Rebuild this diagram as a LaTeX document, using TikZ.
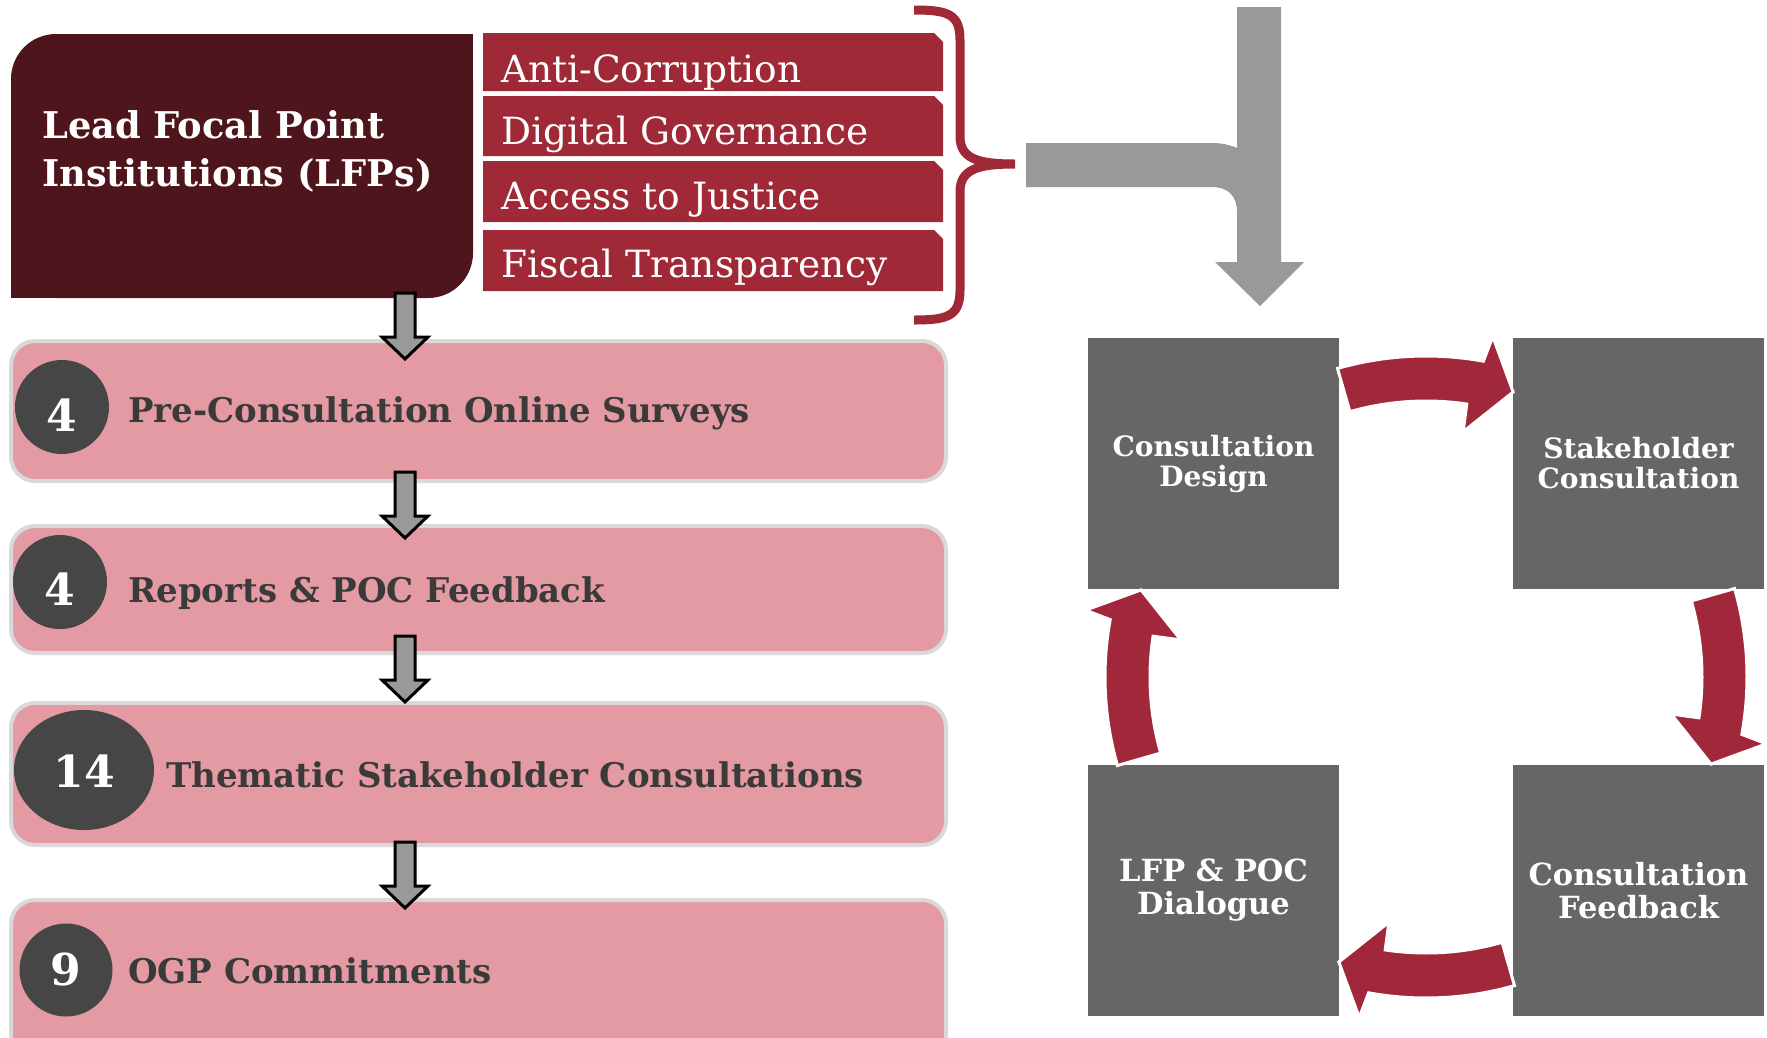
\documentclass[tikz,border=0pt]{standalone}
\usepackage{fontspec}
\setmainfont{DejaVu Serif}
\usetikzlibrary{shapes.geometric}
\definecolor{lfpdark}{HTML}{4F151C}
\definecolor{barred}{HTML}{9F2936}
\definecolor{pinkfill}{HTML}{E49AA2}
\definecolor{pinkline}{HTML}{D9D9D9}
\definecolor{circgray}{HTML}{464646}
\definecolor{sqgray}{HTML}{666666}
\definecolor{biggray}{HTML}{999999}
\definecolor{textdark}{HTML}{3A3A3A}
\definecolor{cyclered}{HTML}{A0283A}
\begin{document}
\begin{tikzpicture}[x=1pt,y=-1pt,
  pinkbox/.style={draw=pinkline, line width=4, fill=pinkfill, rounded corners=24, minimum width=935, inner sep=0, anchor=north west},
  numcirc/.style={ellipse, fill=circgray, inner sep=0},
  numtext/.style={text=white, font=\fontsize{44}{44}\selectfont\bfseries, anchor=base, inner sep=0},
  pinktext/.style={text=textdark, font=\fontsize{34}{36}\selectfont\bfseries, anchor=base west, inner sep=0},
  bartext/.style={text=white, font=\fontsize{37.5}{40}\selectfont, anchor=base west, inner sep=0},
  lfptext/.style={text=white, font=\fontsize{36.8}{48}\selectfont\bfseries, anchor=base west, inner sep=0},
  sqbox/.style={fill=sqgray, minimum width=251, minimum height=251, inner sep=0, text=white, align=center, font=\fontsize{28}{30}\selectfont\bfseries},
  sqboxb/.style={sqbox, font=\fontsize{30.5}{33}\selectfont\bfseries},
  smallarr/.pic={\draw[fill=biggray, line width=3, line join=miter] (-10,0) -- (-10,44) -- (-23,44) -- (0,66) -- (23,44) -- (10,44) -- (10,0) -- cycle;}
]
\fill[white] (0,0) rectangle (1767,1037);
\useasboundingbox (0,0) rectangle (1767,1037);

% Lead focal point box
\fill[lfpdark, rounded corners=45] (11,34) rectangle (473,298);
\fill[lfpdark] (240,34) rectangle (473,160);
\fill[lfpdark] (11,160) rectangle (240,298);
\node[lfptext] (lfpA) at (42,138) {Lead Focal Point};
\node[lfptext] (lfpB) at (42,186) {Institutions (LFPs)};

% theme bars
\foreach \ya/\yb in {33/91,96/156,161/222,230/291}
  \fill[barred] (483,\ya) -- (934,\ya) -- (943,{\ya+9}) -- (943,\yb) -- (483,\yb) -- cycle;
\node[bartext] (bar1) at (501,82) {Anti-Corruption};
\node[bartext] (bar2) at (501,144) {Digital Governance};
\node[bartext] (bar3) at (501,209) {Access to Justice};
\node[bartext] (bar4) at (501,277) {Fiscal Transparency};

% brace
\draw[barred, line width=9] (914,10) .. controls (948,10) and (960,14) .. (960,40) -- (960,136)
  .. controls (960,158) and (976,164) .. (1015,164)
  .. controls (976,164) and (960,170) .. (960,192) -- (960,290)
  .. controls (960,316) and (948,320) .. (914,320);

% big gray arrow
\fill[biggray] (1237,7) -- (1281,7) -- (1281,262) -- (1304,262) -- (1260,306) -- (1215,262) -- (1237,262) -- (1237,212)
  .. controls (1237,196) and (1228,187) .. (1212,187) -- (1026,187) -- (1026,143) -- (1212,143)
  .. controls (1222,143) and (1230,145) .. (1237,148) -- cycle;

% pink boxes
\node[pinkbox, minimum height=140] (b1) at (9,339) {};
\node[pinkbox, minimum height=127] (b2) at (9,524) {};
\node[pinkbox, minimum height=142] (b3) at (9,701) {};
\node[pinkbox, minimum height=175] (b4) at (9,898) {};

\node[numcirc, minimum width=94, minimum height=94] (c1) at (62,407) {};
\node[numcirc, minimum width=94, minimum height=94] (c2) at (60,582) {};
\node[numcirc, minimum width=140, minimum height=120] (c3) at (84,770) {};
\node[numcirc, minimum width=93, minimum height=93] (c4) at (66,970) {};

\node[numtext] (n1) at (62,431) {4};
\node[numtext] (n2) at (60,605) {4};
\node[numtext] (n3) at (84,787) {14};
\node[numtext] (n4) at (66,985) {9};

\node[pinktext] (t1) at (128,422) {Pre-Consultation Online Surveys};
\node[pinktext] (t2) at (128,602) {Reports \& POC Feedback};
\node[pinktext] (t3) at (166,787) {Thematic Stakeholder Consultations};
\node[pinktext] (t4) at (128,983) {OGP Commitments};

% small arrows
\pic at (405,293) {smallarr};
\pic at (405,472) {smallarr};
\pic at (405,636) {smallarr};
\pic at (405,842) {smallarr};

% cycle squares
\node[sqbox] (sq1) at (1213.5,463.5) {Consultation\\Design};
\node[sqbox] (sq2) at (1638.5,463.5) {Stakeholder\\Consultation};
\node[sqboxb] (sq3) at (1213.5,890.5) {LFP \& POC\\Dialogue};
\node[sqboxb] (sq4) at (1638.5,890.5) {Consultation\\Feedback};

% cycle arrows
\begin{scope}[shift={(1426,677)}, yscale=-1]
\foreach \r in {0,-90,-180,-270}{
  \begin{scope}[rotate=\r]
  \filldraw[fill=cyclered, draw=white, line width=3, line join=miter]
    (106:276) arc[start angle=106, end angle=81.5, radius=276] -- (81.4:248) -- (73:298) -- (78.9:347) -- (79.7:321)
    arc[start angle=79.7, end angle=106, radius=321] -- cycle;
  \end{scope}}
\end{scope}
\end{tikzpicture}
\end{document}
